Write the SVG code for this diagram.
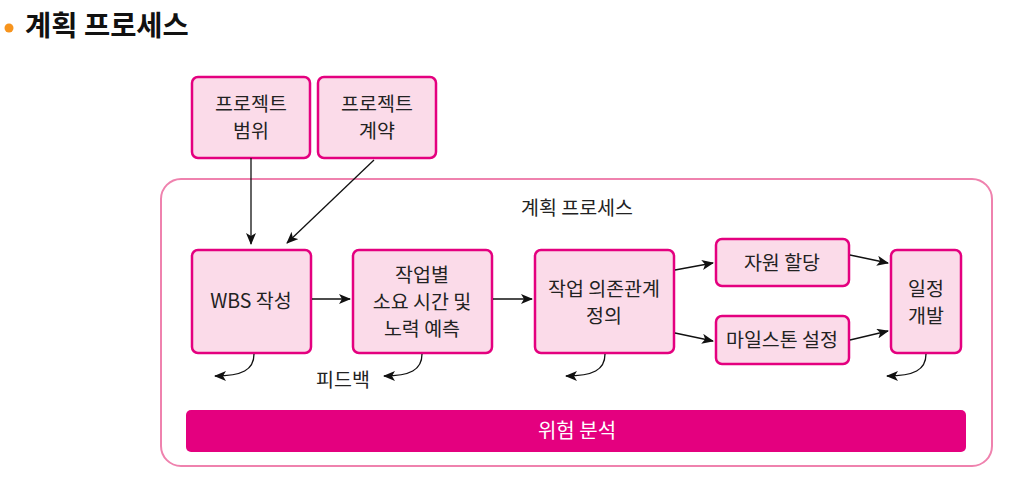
<svg xmlns="http://www.w3.org/2000/svg" width="1010" height="485" viewBox="0 0 1010 485">
<defs>
<marker id="ah" viewBox="0 0 12 10" refX="11" refY="5" markerWidth="12" markerHeight="10" markerUnits="userSpaceOnUse" orient="auto">
<path d="M0,0 L12,5 L0,10 L3,5 z" fill="#111"/>
</marker>
<style>
.box{fill:#fbdbe9;stroke:#e4007f;stroke-width:2.5}
.t{font-family:"Noto Sans CJK KR","Noto Sans",sans-serif;font-size:19.5px;fill:#222;text-anchor:middle}
.c{fill:none;stroke:#111;stroke-width:1.3;marker-end:url(#ah)}
</style>
</defs>
<rect width="1010" height="485" fill="#fff"/>
<g id="title">
<circle cx="9" cy="28" r="4.5" fill="#f7941d"/>
<text x="25" y="36" font-family="Noto Sans CJK KR,sans-serif" font-size="28.5" font-weight="bold" fill="#111">계획 프로세스</text>
</g>
<g id="container">
<rect x="161" y="179" width="831" height="287" rx="20" fill="none" stroke="#ef82ae" stroke-width="2"/>
<text class="t" x="577" y="215">계획 프로세스</text>
</g>
<g id="scope">
<rect class="box" x="192" y="77" width="118" height="81" rx="6"/>
<text class="t" x="251" y="111">프로젝트</text>
<text class="t" x="251" y="138">범위</text>
</g>
<g id="contract">
<rect class="box" x="318" y="77" width="118" height="81" rx="6"/>
<text class="t" x="377" y="111">프로젝트</text>
<text class="t" x="377" y="138">계약</text>
</g>
<g id="wbs">
<rect class="box" x="192" y="250" width="119" height="103" rx="6"/>
<text class="t" x="251" y="308">WBS 작성</text>
</g>
<g id="estimate">
<rect class="box" x="353" y="250" width="139" height="103" rx="6"/>
<text class="t" x="422" y="282">작업별</text>
<text class="t" x="422" y="309">소요 시간 및</text>
<text class="t" x="422" y="336">노력 예측</text>
</g>
<g id="dependency">
<rect class="box" x="535" y="250" width="139" height="103" rx="6"/>
<text class="t" x="604" y="296">작업 의존관계</text>
<text class="t" x="604" y="323">정의</text>
</g>
<g id="resource">
<rect class="box" x="716" y="239" width="133" height="47" rx="6"/>
<text class="t" x="782" y="270">자원 할당</text>
</g>
<g id="milestone">
<rect class="box" x="716" y="316" width="133" height="48" rx="6"/>
<text class="t" x="782" y="347">마일스톤 설정</text>
</g>
<g id="schedule">
<rect class="box" x="891" y="250" width="70" height="103" rx="6"/>
<text class="t" x="926" y="296">일정</text>
<text class="t" x="926" y="323">개발</text>
</g>
<g id="risk">
<rect x="186" y="410" width="780" height="42" rx="5" fill="#e4007f"/>
<text class="t" x="577" y="438" style="fill:#fff;font-size:20px">위험 분석</text>
</g>
<g id="connectors">
<path class="c" d="M251,158 L251,244"/>
<path class="c" d="M374,160 L287,243"/>
<path class="c" d="M312,299 L350,299"/>
<path class="c" d="M493,299 L532,299"/>
<path class="c" d="M675,270 L713,263"/>
<path class="c" d="M675,333 L713,341"/>
<path class="c" d="M850,255 L888,263"/>
<path class="c" d="M850,340 L888,331"/>
<path class="c" d="M254,354 C254,370 242,376 215,376"/>
<path class="c" d="M422,354 C422,370 410,376 384,376"/>
<path class="c" d="M605,354 C605,370 593,376 566,376"/>
<path class="c" d="M926,354 C926,370 914,376 887,376"/>
<text class="t" x="343" y="387">피드백</text>
</g>
</svg>
